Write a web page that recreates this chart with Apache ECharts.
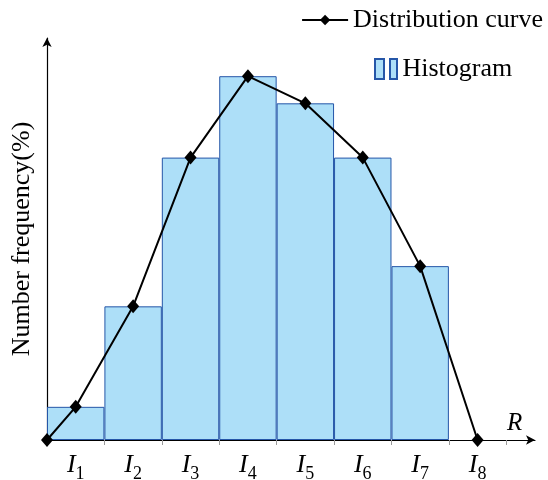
<!DOCTYPE html>
<html>
<head>
<meta charset="utf-8">
<script src="https://cdn.jsdelivr.net/npm/echarts@6/dist/echarts.min.js"></script>
<style>html,body{margin:0;padding:0;background:#fff}#c{width:548px;height:480px}</style>
</head>
<body>
<div id="c"></div>
<script>
// Data
const intervalLabels = ['1','2','3','4','5','6','7','8'];
const binCenters = [0.5, 1.5, 2.5, 3.5, 4.5, 5.5, 6.5];
const binHeights = [3.3, 13.3, 28.1, 36.2, 33.5, 28.1, 17.3];
const curveX = [0, 0.5, 1.5, 2.5, 3.5, 4.5, 5.5, 6.5, 7.5];
const curveY = [0, 3.3, 13.3, 28.1, 36.2, 33.5, 28.1, 17.3, 0];
const tickValues = [1, 2, 3, 4, 5, 6, 7, 8];
const labelValues = [0.5, 1.5, 2.5, 3.5, 4.5, 5.5, 6.5, 7.5];

const font = '"Liberation Serif", "DejaVu Serif", serif';
const gridLeft = 47, gridRight = 13, xMax = 8.5;
const chart = echarts.init(document.getElementById('c'));
const barW = (548 - gridLeft - gridRight) / xMax;

chart.setOption({
  animation: false,
  textStyle: { fontFamily: font },
  grid: { left: gridLeft, right: gridRight, top: 38, bottom: 40, containLabel: false, outerBoundsMode: 'none' },
  legend: [
    { data: ['Distribution curve'], right: 0, top: 2, itemWidth: 46, itemHeight: 13, itemGap: 3,
      textStyle: { fontFamily: font, fontSize: 26, color: '#000' } },
    { data: [{ name: 'Histogram', icon: 'path://M0,0H9V20H0Z M15,0H22V20H15Z' }], left: 369, top: 51, itemWidth: 23, itemHeight: 20, itemGap: 5,
      textStyle: { fontFamily: font, fontSize: 26, color: '#000' } }
  ],
  xAxis: {
    type: 'value', min: 0, max: xMax,
    splitLine: { show: false },
    axisLine: { lineStyle: { color: '#000', width: 1.2 }, symbol: ['none', 'arrow'], symbolSize: [7, 9] },
    axisTick: { show: true, customValues: tickValues, length: 5, lineStyle: { color: '#999' } },
    axisLabel: {
      customValues: labelValues,
      formatter: function (v) { return '{i|I}{s|' + intervalLabels[Math.round(v - 0.5)] + '}'; },
      margin: 12,
      rich: {
        i: { fontFamily: font, fontStyle: 'italic', fontSize: 26, color: '#000', verticalAlign: 'bottom', lineHeight: 26 },
        s: { fontFamily: font, fontSize: 18, color: '#000', verticalAlign: 'bottom', lineHeight: 16, padding: [0, 0, -5, 0] }
      }
    },
    name: 'R', nameLocation: 'end', nameGap: -28,
    nameTextStyle: { fontFamily: font, fontStyle: 'italic', fontSize: 25, color: '#000', verticalAlign: 'bottom', padding: [0, 0, 4, 0] }
  },
  yAxis: {
    type: 'value', min: 0, max: 40,
    splitLine: { show: false },
    axisLine: { show: true, lineStyle: { color: '#000', width: 1.2 }, symbol: ['none', 'arrow'], symbolSize: [7, 9] },
    axisTick: { show: false },
    axisLabel: { show: false },
    name: 'Number frequency(%)', nameLocation: 'middle', nameGap: 12, nameRotate: 90,
    nameTextStyle: { fontFamily: font, fontSize: 26, color: '#000' }
  },
  series: [
    {
      name: 'Histogram', type: 'bar', barWidth: barW,
      data: binCenters.map((x, i) => [x, binHeights[i]]),
      itemStyle: { color: '#ADDFF8', borderColor: '#2556A8', borderWidth: 1 },
      z: 1
    },
    {
      name: 'Distribution curve', type: 'line',
      data: curveX.map((x, i) => [x, curveY[i]]),
      symbol: 'diamond', symbolSize: [12, 14], showAllSymbol: true,
      lineStyle: { color: '#000', width: 2 },
      itemStyle: { color: '#000' },
      z: 3
    }
  ]
});
</script>
</body>
</html>
